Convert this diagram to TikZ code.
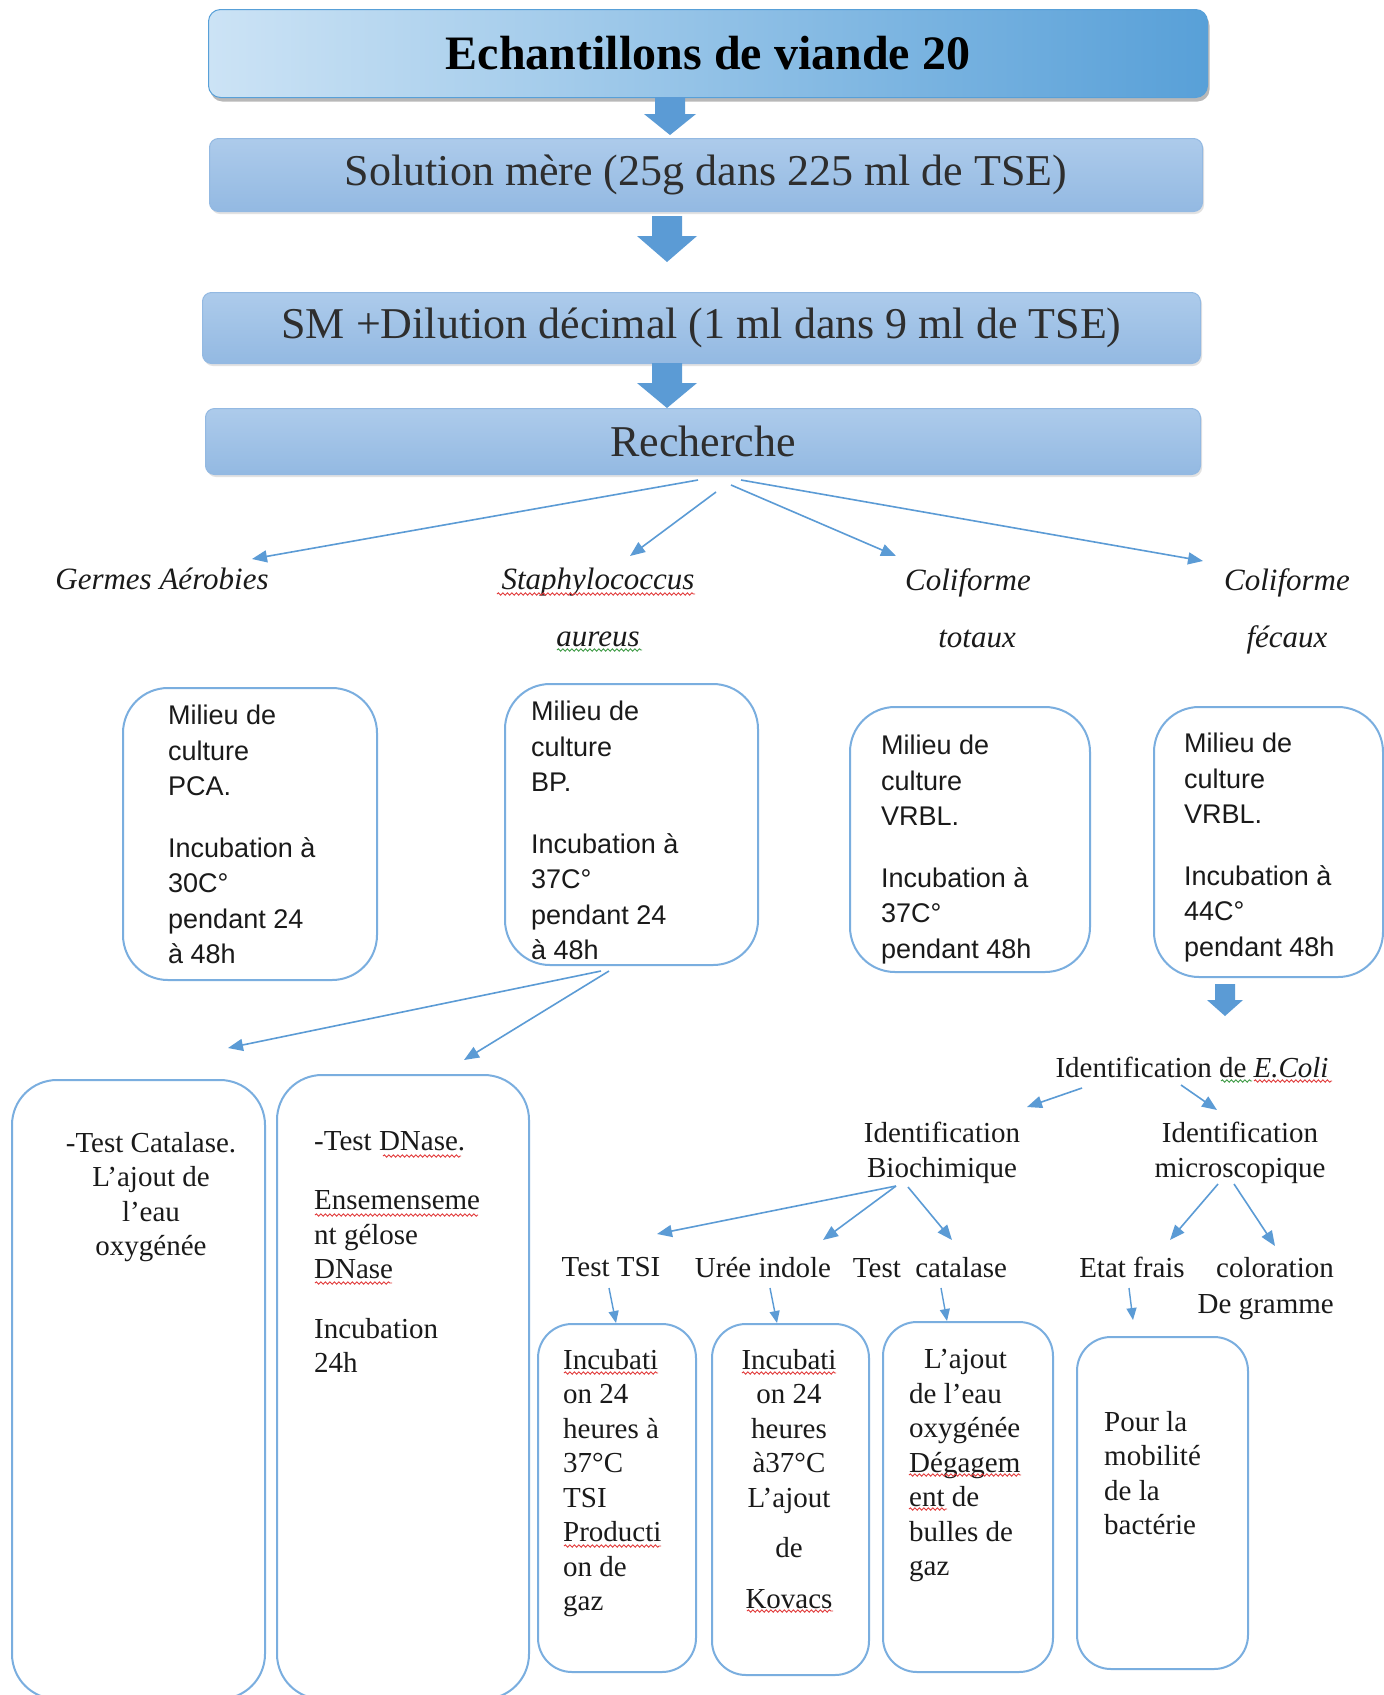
\documentclass[tikz,border=0pt]{standalone}
\usepackage{fontspec}
\setmainfont{Liberation Serif}
\newfontfamily\arialf{Liberation Sans}
\usetikzlibrary{arrows.meta,shadows,decorations.pathmorphing}
\definecolor{cblue}{HTML}{5B9BD5}
\definecolor{oblue}{HTML}{7AAEDF}
\definecolor{txtc}{HTML}{1A1A1A}
\definecolor{hdtxt}{HTML}{2E2E2E}
\definecolor{hdtop}{HTML}{ADCBEB}
\definecolor{hdbot}{HTML}{93B9E2}
\definecolor{tlight}{HTML}{CCE3F5}
\definecolor{tdark}{HTML}{58A0D8}
\definecolor{wred}{HTML}{E23B3B}
\definecolor{wgreen}{HTML}{3E9B45}
\newcommand\blockarrow[6]{\fill[cblue] (#1-#5,#2) -- (#1+#5,#2) -- (#1+#5,#3) -- (#1+#6,#3) -- (#1,#4) -- (#1-#6,#3) -- (#1-#5,#3) -- cycle;}
\tikzset{
  titlebox/.style={rectangle, rounded corners=12pt, left color=tlight, right color=tdark, draw=tdark, line width=1pt, inner sep=0pt, anchor=north west, drop shadow={shadow xshift=2pt, shadow yshift=-4pt, fill=black!55}},
  hdbox/.style={rectangle, rounded corners=9pt, top color=hdtop, bottom color=hdbot, draw=hdbot, line width=1pt, inner sep=0pt, anchor=north west, text=hdtxt, font=\fontsize{44}{48}\selectfont, drop shadow={shadow xshift=1.5pt, shadow yshift=-2.5pt, fill=black!22}},
  rbox/.style={rectangle, draw=oblue, line width=2pt, rounded corners=45pt, inner sep=0pt, anchor=north west},
  sbox/.style={rbox, rounded corners=34pt},
  ar/.style={font=\arialf\fontsize{27}{35.5}\selectfont, text=txtc, inner sep=0pt, align=left, anchor=north west},
  tm/.style={font=\fontsize{29}{34.5}\selectfont, text=txtc, inner sep=0pt, anchor=north},
  itl/.style={font=\itshape\fontsize{31}{57}\selectfont, text=txtc, inner sep=0pt, anchor=north, align=center},
  conn/.style={draw=cblue, line width=1.6pt, -{Triangle[length=15pt,width=12pt]}},
  sconn/.style={draw=cblue, line width=1.4pt, -{Triangle[length=12pt,width=10pt]}},
  wavr/.style={draw=wred, line width=0.9pt, decorate, decoration={snake, amplitude=1.2pt, segment length=4.5pt}},
  wavg/.style={wavr, draw=wgreen}
}
\begin{document}
\begin{tikzpicture}[x=1pt,y=-1pt]
\useasboundingbox (0,0) rectangle (1384,1695);
\clip (0,0) rectangle (1384,1695);
\fill[white] (0,0) rectangle (1384,1695);

% header boxes
\node[titlebox, minimum width=999pt, minimum height=88pt] (t1) at (208,9) {};
\node[font=\bfseries\fontsize{48}{50}\selectfont, text=black] (t1t) at (708,53) {Echantillons de viande 20};
\node[hdbox, minimum width=993pt, minimum height=73pt] (t2) at (209,138) {Solution mère (25g dans 225 ml de TSE)};
\node[hdbox, minimum width=998pt, minimum height=71pt] (t3) at (202,292) {SM +Dilution décimal (1 ml dans 9 ml de TSE)};
\node[hdbox, minimum width=995pt, minimum height=66pt] (t4) at (205,408) {Recherche};

% block arrows
\blockarrow{670}{97}{114}{135}{15}{26}
\blockarrow{667}{216}{236}{262}{15}{30}
\blockarrow{667}{363}{383}{408}{15}{30}
\blockarrow{1225}{984}{1000}{1016}{10}{18}

% labels
\node[itl] (ga) at (162,568) {Germes Aérobies};
\node[itl] (sa) at (598,568) {Staphylococcus\\aureus};
\node[itl] (ct) at (968,568) {Coliforme\\\hspace*{18pt}totaux};
\node[itl] (cf) at (1287,568) {Coliforme\\fécaux};
\draw[wavr] (497,594) -- (695,594);
\draw[wavg] (557,650) -- (642,650);

% connectors from Recherche
\coordinate (r1) at (698,480); \coordinate (ga-e) at (252,559);
\coordinate (r2) at (716,492); \coordinate (sa-e) at (630,556);
\coordinate (r3) at (731,485); \coordinate (ct-e) at (896,556);
\coordinate (r4) at (741,480); \coordinate (cf-e) at (1203,561);
\draw[conn] (r1) -- (ga-e);
\draw[conn] (r2) -- (sa-e);
\draw[conn] (r3) -- (ct-e);
\draw[conn] (r4) -- (cf-e);

% culture boxes
\node[rbox, minimum width=254pt, minimum height=292pt] (pca) at (122,687) {};
\node[ar] (pcat) at (168,705) {Milieu de\\culture\\PCA.\\[26pt]Incubation à\\30C°\\pendant 24\\à 48h};
\node[rbox, minimum width=253pt, minimum height=281pt] (bp) at (504,683) {};
\node[ar] (bpt) at (531,701) {Milieu de\\culture\\BP.\\[26pt]Incubation à\\37C°\\pendant 24\\à 48h};
\node[rbox, minimum width=240pt, minimum height=265pt] (vr1) at (849,706) {};
\node[ar] (vr1t) at (881,735) {Milieu de\\culture\\VRBL.\\[26pt]Incubation à\\37C°\\pendant 48h};
\node[rbox, minimum width=229pt, minimum height=270pt] (vr2) at (1153,706) {};
\node[ar] (vr2t) at (1184,733) {Milieu de\\culture\\VRBL.\\[26pt]Incubation à\\44C°\\pendant 48h};

% staph tests
\coordinate (b1) at (601,971); \coordinate (cat-e) at (228,1048);
\coordinate (b2) at (609,971); \coordinate (dn-e) at (464,1060);
\draw[conn] (b1) -- (cat-e);
\draw[conn] (b2) -- (dn-e);
\node[rbox, minimum width=253pt, minimum height=619pt] (catb) at (11,1079) {};
\node[tm, align=center] (catt) at (151,1132) {-Test Catalase.\\L’ajout de\\l’eau\\oxygénée};
\node[rbox, minimum width=252pt, minimum height=624pt] (dnb) at (276,1074) {};
\node[tm, align=left, anchor=north west] (dnt) at (314,1131) {-Test DNase.\\[25pt]Ensemenseme\\nt gélose\\DNase\\[25pt]Incubation\\24h};
\draw[wavr] (383,1156) -- (461,1156);
\draw[wavr] (315,1215) -- (478,1215);
\draw[wavr] (315,1283) -- (392,1283);

% E. coli identification
\node[tm] (ec) at (1192,1057) {Identification de \textit{E.Coli}};
\draw[wavg] (1221,1081) -- (1252,1081);
\draw[wavr] (1254,1081) -- (1332,1081);
\node[tm, align=center] (bio) at (942,1122) {Identification\\Biochimique};
\node[tm, align=center] (mic) at (1240,1122) {Identification\\microscopique};
\coordinate (c1) at (1082,1088); \coordinate (bio-e) at (1027,1107);
\coordinate (c2) at (1181,1085); \coordinate (mic-e) at (1217,1110);
\draw[conn] (c1) -- (bio-e);
\draw[conn] (c2) -- (mic-e);

\node[tm] (tsi) at (611,1257) {Test TSI};
\node[tm] (uree) at (763,1257) {Urée indole};
\node[tm] (tcat) at (930,1257) {Test\ \ catalase};
\node[tm] (etat) at (1132,1257) {Etat frais};
\node[tm, align=right, anchor=north east, font=\fontsize{29}{36}\selectfont] (colo) at (1334,1257) {coloration\\De gramme};

\coordinate (d0) at (896,1186);
\coordinate (tsi-e) at (657,1234); \coordinate (uree-e) at (823,1240);
\coordinate (d3) at (908,1187); \coordinate (tcat-e) at (952,1240);
\draw[conn] (d0) -- (tsi-e);
\draw[conn] (d0) -- (uree-e);
\draw[conn] (d3) -- (tcat-e);
\coordinate (e1) at (1218,1184); \coordinate (etat-e) at (1170,1240);
\coordinate (e2) at (1234,1184); \coordinate (colo-e) at (1275,1246);
\draw[conn] (e1) -- (etat-e);
\draw[conn] (e2) -- (colo-e);

% small arrows into bottom boxes
\coordinate (f1) at (609,1288); \coordinate (f1e) at (616,1323);
\coordinate (f2) at (770,1288); \coordinate (f2e) at (777,1323);
\coordinate (f3) at (941,1288); \coordinate (f3e) at (947,1321);
\coordinate (f4) at (1129,1288); \coordinate (f4e) at (1133,1320);
\draw[sconn] (f1) -- (f1e);
\draw[sconn] (f2) -- (f2e);
\draw[sconn] (f3) -- (f3e);
\draw[sconn] (f4) -- (f4e);

% bottom boxes
\node[sbox, minimum width=158pt, minimum height=348pt] (tsib) at (537,1323) {};
\node[tm, align=left, anchor=north west] (tsit) at (563,1349) {Incubati\\on 24\\heures à\\37°C\\TSI\\Producti\\on de\\gaz};
\draw[wavr] (564,1373) -- (658,1373);
\draw[wavr] (564,1546) -- (661,1546);
\node[sbox, minimum width=157pt, minimum height=351pt] (ureeb) at (711,1323) {};
\node[tm, align=center] (ureet) at (789,1349) {Incubati\\on 24\\heures\\à37°C\\L’ajout\\[16pt]de\\[16pt]Kovacs};
\draw[wavr] (742,1373) -- (836,1373);
\draw[wavr] (747,1611) -- (833,1611);
\node[sbox, minimum width=170pt, minimum height=350pt] (tcatb) at (882,1321) {};
\node[tm, align=left, anchor=north west] (tcatt) at (909,1349) {\hspace*{15pt}L’ajout\\de l’eau\\oxygénée\\Dégagem\\ent de\\bulles de\\gaz};
\draw[wavr] (909,1475) -- (1021,1475);
\draw[wavr] (909,1509) -- (947,1509);
\node[sbox, minimum width=171pt, minimum height=332pt] (etatb) at (1076,1336) {};
\node[tm, align=left, anchor=north west] (etatt) at (1104,1411) {Pour la\\mobilité\\de la\\bactérie};
\end{tikzpicture}
\end{document}
